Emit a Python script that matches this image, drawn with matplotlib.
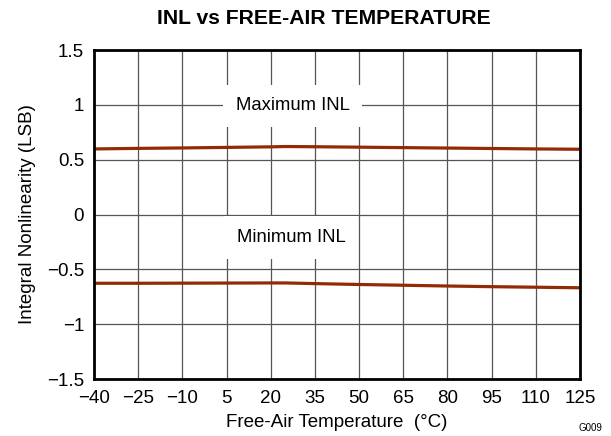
import matplotlib
matplotlib.use('Agg')
import matplotlib.pyplot as plt

# datos (temperatura en °C, INL en LSB)
temps = [-40, -25, -10, 5, 20, 25, 35, 50, 65, 80, 95, 110, 125]
inl_max = [0.598, 0.603, 0.607, 0.612, 0.617, 0.620, 0.618, 0.614, 0.610, 0.606, 0.602, 0.598, 0.595]
inl_min = [-0.627, -0.627, -0.626, -0.625, -0.624, -0.624, -0.630, -0.638, -0.645, -0.652, -0.658, -0.663, -0.668]

x_ticks = [-40, -25, -10, 5, 20, 35, 50, 65, 80, 95, 110, 125]
y_ticks = [-1.5, -1, -0.5, 0, 0.5, 1, 1.5]
y_labels = ['\u22121.5', '\u22121', '\u22120.5', '0', '0.5', '1', '1.5']
x_labels = [str(t).replace('-', '\u2212') for t in x_ticks]

plt.rcParams['font.family'] = ['Liberation Sans', 'DejaVu Sans']

fig = plt.figure(figsize=(6.11, 4.36), dpi=100)
ax = fig.add_axes([0.1538, 0.1307, 0.7955, 0.7546])

color = '#912a05'
ax.plot(temps, inl_max, color=color, lw=2.3, zorder=3)
ax.plot(temps, inl_min, color=color, lw=2.3, zorder=3)

ax.set_xlim(-40, 125)
ax.set_ylim(-1.5, 1.5)
ax.set_xticks(x_ticks)
ax.set_xticklabels(x_labels)
ax.set_yticks(y_ticks)
ax.set_yticklabels(y_labels)
ax.tick_params(length=0, labelsize=13.5, pad=7)
ax.tick_params(axis='x', pad=8)
ax.grid(True, color='#555555', lw=0.9, zorder=1)
for s in ax.spines.values():
    s.set_linewidth(2)
    s.set_zorder(5)

box = dict(facecolor='white', edgecolor='none', pad=9)
ax.text(27.5, 0.99, 'Maximum INL', ha='center', va='center', fontsize=13.3, bbox=box, zorder=2)
ax.text(27, -0.21, 'Minimum INL', ha='center', va='center', fontsize=13.3, bbox=box, zorder=2)

ax.set_xlabel('Free-Air Temperature  (°C)', fontsize=13.5, labelpad=5)
ax.set_ylabel('Integral Nonlinearity (LSB)', fontsize=13.5)
ax.yaxis.set_label_coords(-0.12, 0.5)

fig.text(0.53, 0.958, 'INL vs FREE-AIR TEMPERATURE', ha='center', va='center',
         fontsize=15.2, fontweight='bold')
fig.text(0.966, 0.006, 'G009', ha='center', va='bottom', fontsize=7)

fig.savefig('out.png', dpi=100)
